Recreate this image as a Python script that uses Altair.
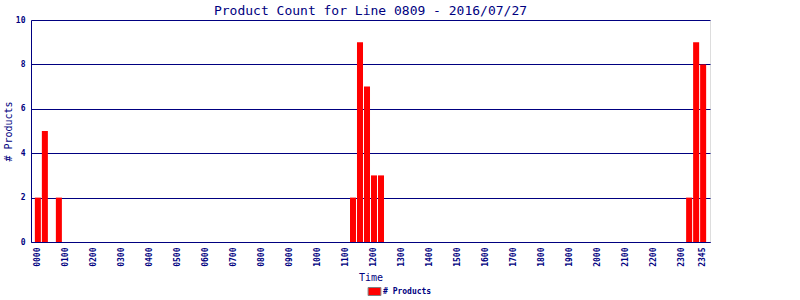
import altair as alt
import pandas as pd

title_text = "Product Count for Line 0809 - 2016/07/27"
series_name = "# Products"

# 15-minute time slots 0000 .. 2345
times = [f"{h:02d}{m:02d}" for h in range(24) for m in (0, 15, 30, 45)]

counts = [
    2, 5, 0, 2, 0, 0, 0, 0, 0, 0, 0, 0,   # 0000-0245
    0, 0, 0, 0, 0, 0, 0, 0, 0, 0, 0, 0,   # 0300-0545
    0, 0, 0, 0, 0, 0, 0, 0, 0, 0, 0, 0,   # 0600-0845
    0, 0, 0, 0, 0, 0, 0, 0, 0, 2, 9, 7,   # 0900-1145
    3, 3, 0, 0, 0, 0, 0, 0, 0, 0, 0, 0,   # 1200-1445
    0, 0, 0, 0, 0, 0, 0, 0, 0, 0, 0, 0,   # 1500-1745
    0, 0, 0, 0, 0, 0, 0, 0, 0, 0, 0, 0,   # 1800-2045
    0, 0, 0, 0, 0, 0, 0, 0, 0, 2, 9, 8,   # 2100-2345
]

y_ticks = [0, 2, 4, 6, 8, 10]

df = pd.DataFrame({"time": times, "count": counts, "series": series_name})

NAVY = "#000080"
FONT = "DejaVu Sans Mono"

chart = (
    alt.Chart(df)
    .mark_bar(color="#FF0000")
    .encode(
        x=alt.X(
            "time:N",
            sort=times,
            scale=alt.Scale(domain=times, paddingInner=0.14, paddingOuter=0.55),
            axis=alt.Axis(
                title="Time",
                labelExpr="slice(datum.label, 2) == '00' || datum.label == '2345' ? datum.label : ''",
                labelAngle=270,
                labelOverlap=False,
                labelFont=FONT,
                labelFontSize=8,
                labelFontWeight="bold",
                labelColor=NAVY,
                labelPadding=5,
                ticks=False,
                domainColor=NAVY,
                titleFont=FONT,
                titleFontSize=10,
                titleFontWeight="normal",
                titleColor=NAVY,
                titlePadding=6,
            ),
        ),
        y=alt.Y(
            "count:Q",
            scale=alt.Scale(domain=[0, 10], nice=False),
            axis=alt.Axis(
                title="# Products",
                values=y_ticks,
                labelFont=FONT,
                labelFontSize=8,
                labelFontWeight="bold",
                labelColor=NAVY,
                labelPadding=6,
                ticks=False,
                domainColor=NAVY,
                grid=True,
                gridColor=NAVY,
                gridOpacity=1,
                gridWidth=1,
                titleFont=FONT,
                titleFontSize=10,
                titleFontWeight="normal",
                titleColor=NAVY,
                titlePadding=2,
            ),
        ),
        color=alt.Color(
            "series:N",
            scale=alt.Scale(domain=[series_name], range=["#FF0000"]),
            legend=alt.Legend(
                title=None,
                orient="none",
                legendX=339,
                legendY=267,
                symbolType="M-1.6,-1H1.6V1H-1.6Z",
                symbolSize=64,
                symbolStrokeColor="#808080",
                symbolStrokeWidth=1,
                symbolOpacity=1,
                labelFont=FONT,
                labelFontSize=8,
                labelFontWeight="bold",
                labelColor=NAVY,
                labelOffset=4,
            ),
        ),
    )
    .properties(
        width=679,
        height=222,
        title=alt.TitleParams(
            title_text,
            font=FONT,
            fontSize=13,
            fontWeight="normal",
            color=NAVY,
            anchor="middle",
            offset=-2,
        ),
        autosize=alt.AutoSizeParams(type="none"),
        padding={"left": 31, "top": 20, "right": 90, "bottom": 58},
    )
    .configure_view(stroke=NAVY, strokeWidth=1)
    .configure(background="white")
)

chart.save("out.html", embed_options={"renderer": "svg", "actions": False})
